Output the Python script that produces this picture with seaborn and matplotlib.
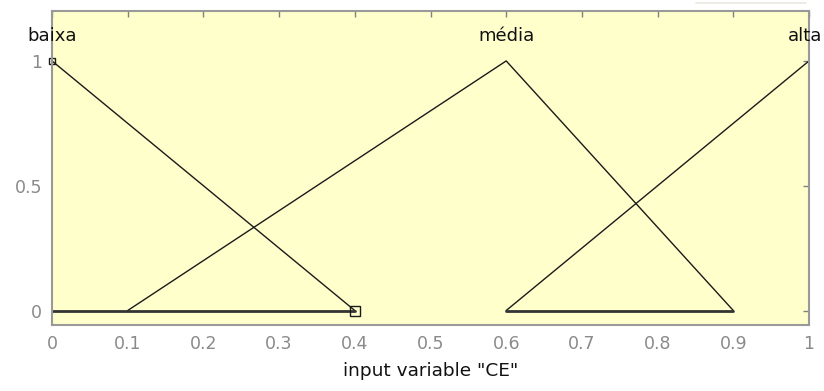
import matplotlib
matplotlib.use("Agg")
import matplotlib.pyplot as plt
import seaborn as sns
import pandas as pd
from matplotlib.lines import Line2D

# membership functions of input variable "CE"
mf_names = ["baixa", "média", "alta"]
baixa_x = [0.0, 0.4]
baixa_y = [1.0, 0.0]
media_x = [0.1, 0.6, 0.9]
media_y = [0.0, 1.0, 0.0]
alta_x = [0.6, 1.0]
alta_y = [0.0, 1.0]
label_x = [0.0, 0.6, 1.0]
label_y = [1.1, 1.1, 1.1]
base1_x = [0.0, 0.4]
base1_y = [0.0, 0.0]
base2_x = [0.6, 0.9]
base2_y = [0.0, 0.0]
xticks = [0, 0.1, 0.2, 0.3, 0.4, 0.5, 0.6, 0.7, 0.8, 0.9, 1]
xticklabels = ["0", "0.1", "0.2", "0.3", "0.4", "0.5", "0.6", "0.7", "0.8", "0.9", "1"]
yticks = [0, 0.5, 1]
yticklabels = ["0", "0.5", "1"]

sns.set_theme(style="white")
plt.rcParams["font.family"] = ["DejaVu Sans"]

fig = plt.figure(figsize=(8.24, 3.91), dpi=100)
ax = fig.add_axes([52/824, 1 - 325/391, (809-52)/824, (325-11)/391])
ax.set_facecolor("#FFFFCC")

lc = "#1a1a1a"
for xs, ys in [(baixa_x, baixa_y), (media_x, media_y), (alta_x, alta_y)]:
    df = pd.DataFrame({"x": xs, "y": ys})
    sns.lineplot(data=df, x="x", y="y", sort=False, color=lc, linewidth=1.0, ax=ax)
for xs, ys in [(base1_x, base1_y), (base2_x, base2_y)]:
    df = pd.DataFrame({"x": xs, "y": ys})
    sns.lineplot(data=df, x="x", y="y", sort=False, color="#333333", linewidth=2.0, ax=ax)

# selection markers
ax.plot([baixa_x[-1]], [baixa_y[-1]], marker="s", markersize=7, markerfacecolor="none",
        markeredgecolor=lc, markeredgewidth=1.0, clip_on=False, linestyle="none")
ax.plot([baixa_x[0]], [baixa_y[0]], marker="s", markersize=4, markerfacecolor="none",
        markeredgecolor=lc, markeredgewidth=1.0, clip_on=False, linestyle="none")

shifts = [0, 0, -4]
for name, lx, ly, dx in zip(mf_names, label_x, label_y, shifts):
    ax.annotate(name, xy=(lx, ly), xytext=(dx, 0), textcoords="offset pixels",
                ha="center", va="center", fontsize=13, color="#111111", annotation_clip=False)

ax.set_xlim(0, 1)
ax.set_ylim(-0.058, 1.2)
ax.set_xticks(xticks)
ax.set_xticklabels(xticklabels)
ax.set_yticks(yticks)
ax.set_yticklabels(yticklabels)
ax.tick_params(axis="both", direction="in", length=4, width=1, color="#808080",
               labelcolor="#8a8a8a", labelsize=12.5, top=True, right=True)
ax.tick_params(axis="x", pad=7)
ax.tick_params(axis="y", pad=7)
ax.set_xlabel('input variable "CE"', fontsize=13.3, color="#111111", labelpad=7)
ax.set_ylabel("")
for s in ax.spines.values():
    s.set_color("#999999")
    s.set_linewidth(1.5)

fig.add_artist(Line2D([696/824, 806/824], [1 - 3/391, 1 - 3/391], color="#ebe7e0", linewidth=1.2))

fig.savefig("out.png", dpi=100, facecolor="white")
